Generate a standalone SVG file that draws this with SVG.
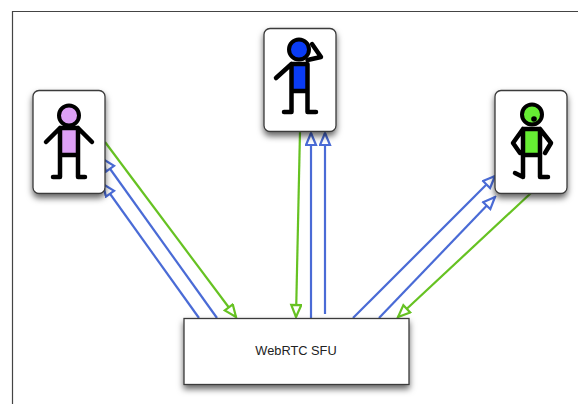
<svg xmlns="http://www.w3.org/2000/svg" width="578" height="404" viewBox="0 0 578 404">
<style>
.card{fill:#fff;stroke:#3a3a3a;stroke-width:1.3;filter:url(#sh)}
.f{fill:none;stroke:#000;stroke-width:4.500;stroke-linecap:round;stroke-linejoin:round}
.g{fill:none;stroke:#66c222;stroke-width:2.200}
.b{fill:none;stroke:#4a6bd6;stroke-width:2.200}
.frame{fill:none;stroke:#444;stroke-width:1.2}
text{font-family:"Liberation Sans",Arial,sans-serif;font-size:12.800px;fill:#222;text-anchor:middle}
</style>
<defs>
<filter id="sh" x="-20%" y="-20%" width="140%" height="140%"><feDropShadow dx="0" dy="4" stdDeviation="3" flood-color="#000" flood-opacity="0.6"/></filter>
<marker id="ab" markerUnits="userSpaceOnUse" markerWidth="16" markerHeight="14" refX="14" refY="6" orient="auto"><path d="M2 1L14 6L2 11Z" fill="#fff" stroke="#4a6bd6" stroke-width="2.200"/></marker>
<marker id="ag" markerUnits="userSpaceOnUse" markerWidth="16" markerHeight="14" refX="14" refY="6" orient="auto"><path d="M2 1L14 6L2 11Z" fill="#fff" stroke="#66c222" stroke-width="2.200"/></marker>
</defs>
<rect width="578" height="404" fill="#fff"/>
<path class="frame" d="M578 11.500H12.500V404"/>
<g id="connectors">
<path class="g" marker-end="url(#ag)" d="M105 142L236 317"/>
<path class="b" marker-end="url(#ab)" d="M217 318L103 159"/>
<path class="b" marker-end="url(#ab)" d="M199 318L103 184"/>
<path class="g" marker-end="url(#ag)" d="M300 131L296 317"/>
<path class="b" marker-end="url(#ab)" d="M311 320V133"/>
<path class="b" marker-end="url(#ab)" d="M325 314V133"/>
<path class="b" marker-end="url(#ab)" d="M353 318L495 176"/>
<path class="b" marker-end="url(#ab)" d="M379 318L495 197"/>
<path class="g" marker-end="url(#ag)" d="M531 193L398 317"/>
</g>
<g id="user-left">
<rect class="card" x="33" y="90.500" width="72" height="103" rx="6"/>
<rect x="60" y="128" width="18" height="27" fill="#dda0f5"/>
<circle cx="69" cy="115.500" r="10" fill="#dda0f5" stroke="#000" stroke-width="4"/>
<path class="f" d="M60 128H78V155H60ZM60 128L46 142M78 128L92 142M60 155V177H53M78 155V177H85"/>
</g>
<g id="user-top">
<rect class="card" x="264" y="28.500" width="72" height="103" rx="6"/>
<rect x="291.500" y="64" width="16" height="27" fill="#0a3cf5"/>
<circle cx="299" cy="49.500" r="10" fill="#0a3cf5" stroke="#000" stroke-width="4"/>
<path class="f" d="M291.500 64H307.500V91H291.500ZM291.500 64L276 78M307.500 60L321 57L312 44M291.500 91V112H284M307.500 91V112H316"/>
</g>
<g id="user-right">
<rect class="card" x="495" y="90.500" width="72" height="103" rx="6"/>
<rect x="523" y="129" width="17" height="25" fill="#66ee33"/>
<circle cx="532" cy="114.500" r="10" fill="#66ee33" stroke="#000" stroke-width="4"/>
<circle cx="534" cy="119" r="2.800" fill="#000"/>
<path class="f" d="M523 129H540V155H523ZM523 129L513 143L520 153M540 129L551 143L545 153M523 155V177L515 173M540 155V177H548"/>
</g>
<g id="sfu">
<rect class="card" x="184" y="318.500" width="225" height="66"/>
<text x="296" y="355">WebRTC SFU</text>
</g>
</svg>
